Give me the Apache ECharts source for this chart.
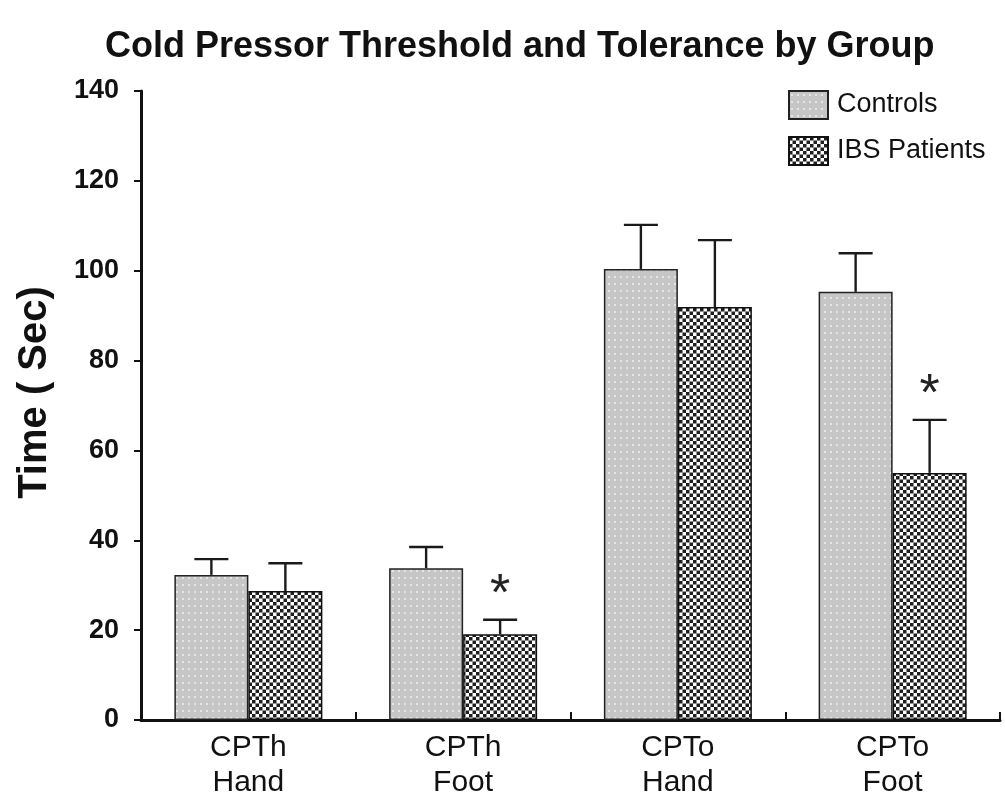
<!DOCTYPE html>
<html>
<head>
<meta charset="utf-8">
<script src="https://cdn.jsdelivr.net/npm/echarts@6/dist/echarts.min.js"></script>
<style>
html,body{margin:0;padding:0;background:#fff;}
#chart{width:1005px;height:796px;}
</style>
</head>
<body>
<div id="chart"></div>
<script>
// ---- data ----
const categories = ['CPTh\nHand', 'CPTh\nFoot', 'CPTo\nHand', 'CPTo\nFoot'];
const seriesNames = ['Controls', 'IBS Patients'];
const controlsMean = [32.3, 33.8, 100.4, 95.3];
const controlsErr  = [3.5, 4.7, 9.8, 8.6];
const ibsMean      = [28.7, 19.1, 91.9, 55.0];
const ibsErr       = [6.2, 3.2, 14.9, 11.8];
const ibsSignificant = [false, true, false, true];
const yTicks = [0, 20, 40, 60, 80, 100, 120, 140];

// ---- patterns ----
function makeDots() {
  const c = document.createElement('canvas');
  c.width = 6; c.height = 7;
  const g = c.getContext('2d');
  g.fillStyle = '#c6c6c6'; g.fillRect(0, 0, 6, 7);
  g.fillStyle = '#e6e6e6'; g.fillRect(2, 3, 2, 2);
  return c;
}
function makeChecker() {
  const c = document.createElement('canvas');
  c.width = 7; c.height = 7;
  const g = c.getContext('2d');
  g.fillStyle = '#ffffff'; g.fillRect(0, 0, 7, 7);
  g.fillStyle = '#1e1e1e'; g.fillRect(0, 0, 3.5, 3.5); g.fillRect(3.5, 3.5, 3.5, 3.5);
  return c;
}
const dotImg = makeDots();
const checkImg = makeChecker();

const BAR_W = 74;
const FONT = "'Liberation Sans', Arial, Helvetica, sans-serif";

function errSeries(means, errs, offset, sig) {
  return {
    type: 'custom',
    z: 5,
    data: means.map((m, i) => [i, m, errs[i]]),
    renderItem: function (params, api) {
      const i = api.value(0), m = api.value(1), e = api.value(2);
      const p0 = api.coord([i, m]);
      const p1 = api.coord([i, m + e]);
      const x = p0[0] + offset;
      const cw = 17;
      const children = [
        { type: 'line', shape: { x1: x, y1: p0[1], x2: x, y2: p1[1] }, style: { stroke: '#1a1a1a', lineWidth: 2.4 } },
        { type: 'line', shape: { x1: x - cw, y1: p1[1], x2: x + cw, y2: p1[1] }, style: { stroke: '#1a1a1a', lineWidth: 2.4 } }
      ];
      if (sig && sig[params.dataIndex]) {
        children.push({
          type: 'text',
          style: { text: '*', x: x, y: p1[1] - 24, align: 'center', verticalAlign: 'middle',
                   font: "normal 52px " + FONT, fill: '#222' }
        });
      }
      return { type: 'group', children: children };
    },
    silent: true,
    tooltip: { show: false }
  };
}

const chart = echarts.init(document.getElementById('chart'), null, { renderer: 'canvas' });
chart.setOption({
  animation: false,
  backgroundColor: '#ffffff',
  title: {
    text: 'Cold Pressor Threshold and Tolerance by Group',
    left: 100,
    top: 24,
    textStyle: { fontFamily: FONT, fontSize: 36, fontWeight: 'bold', color: '#111' }
  },
  legend: {
    orient: 'vertical',
    left: 783,
    top: 85,
    itemWidth: 39,
    itemHeight: 28,
    itemGap: 16,
    icon: 'rect',
    data: seriesNames,
    textStyle: { fontFamily: FONT, fontSize: 27, color: '#111', padding: [0, 0, 0, 4] }
  },
  grid: { left: 141, right: 5, top: 91, bottom: 76, containLabel: false, outerBoundsMode: 'none' },
  xAxis: {
    type: 'category',
    data: categories,
    axisLine: { lineStyle: { color: '#111', width: 3 } },
    axisTick: { show: true, inside: true, length: 8, lineStyle: { color: '#111', width: 2 } },
    axisLabel: { fontFamily: FONT, fontSize: 30, lineHeight: 35, color: '#111', margin: 10 }
  },
  yAxis: {
    type: 'value',
    min: yTicks[0],
    max: yTicks[yTicks.length - 1],
    interval: 20,
    name: 'Time ( Sec)',
    nameLocation: 'middle',
    nameGap: 86,
    nameTextStyle: { fontFamily: FONT, fontSize: 40, fontWeight: 'bold', color: '#111', padding: [0, 0, 0, 26] },
    axisLine: { show: true, lineStyle: { color: '#111', width: 3 } },
    axisTick: { show: true, length: 7, lineStyle: { color: '#111', width: 2 } },
    axisLabel: { fontFamily: FONT, fontSize: 27, fontWeight: 'bold', color: '#111', margin: 22, padding: [8, 0, 0, 0] },
    splitLine: { show: false }
  },
  series: [
    {
      name: seriesNames[0], type: 'bar', data: controlsMean, barWidth: BAR_W, barGap: '0%',
      itemStyle: { color: { image: dotImg, repeat: 'repeat' }, borderColor: '#222', borderWidth: 1.5 }
    },
    {
      name: seriesNames[1], type: 'bar', data: ibsMean, barWidth: BAR_W, barGap: '0%',
      itemStyle: { color: { image: checkImg, repeat: 'repeat' }, borderColor: '#111', borderWidth: 1.5 }
    },
    errSeries(controlsMean, controlsErr, -BAR_W / 2, null),
    errSeries(ibsMean, ibsErr, BAR_W / 2, ibsSignificant)
  ]
});
</script>
</body>
</html>
